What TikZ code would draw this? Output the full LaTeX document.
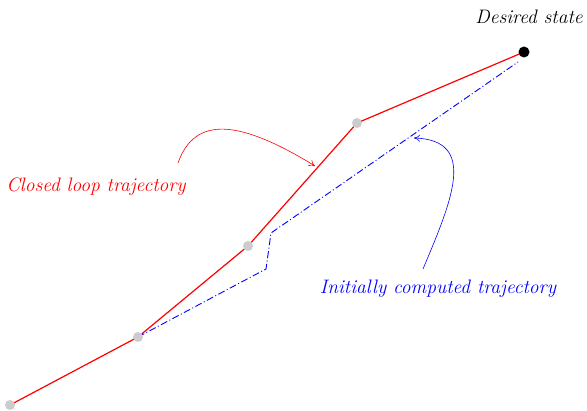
\documentclass[tikz,border=0pt]{standalone}
\usetikzlibrary{arrows.meta}
\begin{document}
\begin{tikzpicture}[x=1pt,y=-1pt,
  redtraj/.style={draw=red, line width=1.2pt},
  bluetraj/.style={draw=blue, line width=0.9pt, dash pattern=on 7pt off 2.5pt on 1pt off 2.5pt},
  waypt/.style={circle, fill=black!20, inner sep=0pt, minimum size=10pt},
  goalpt/.style={circle, fill=black, inner sep=0pt, minimum size=11pt},
  lbl/.style={font=\fontsize{19.5}{23}\selectfont\itshape, inner sep=0pt},
  pointer/.style={line width=0.6pt, -{To[length=6pt,width=7pt]}}]
\useasboundingbox (0,0) rectangle (587,411);
\coordinate (p0) at (10,405);
\coordinate (p1) at (138,337);
\coordinate (p2) at (248,246);
\coordinate (p3) at (357,123);
\coordinate (p4) at (524,52);
\coordinate (b1) at (266,269);
\coordinate (b2) at (271,233);
\coordinate (b3) at (518,62);
\draw[bluetraj] (p1) -- (b1) -- (b2) -- (b3);
\draw[redtraj] (p0) -- (p1) -- (p2) -- (p3) -- (p4);
\node[waypt] (n0) at (p0) {};
\node[waypt] (n1) at (p1) {};
\node[waypt] (n2) at (p2) {};
\node[waypt] (n3) at (p3) {};
\node[goalpt] (n4) at (p4) {};
\node[lbl, text=black] (desired) at (529,17) {Desired state};
\node[lbl, text=red] (closed) at (96,187) {Closed loop trajectory};
\node[lbl, text=blue] (initial) at (438,289) {Initially computed trajectory};
\coordinate (ra) at (178,163);
\coordinate (rb) at (315,166);
\coordinate (ba) at (423,269);
\coordinate (bb) at (414,138);
\draw[pointer, red] (ra) .. controls (195,115) and (240,120) .. (rb);
\draw[pointer, blue] (ba) .. controls (452,200) and (478,140) .. (bb);
\end{tikzpicture}
\end{document}
